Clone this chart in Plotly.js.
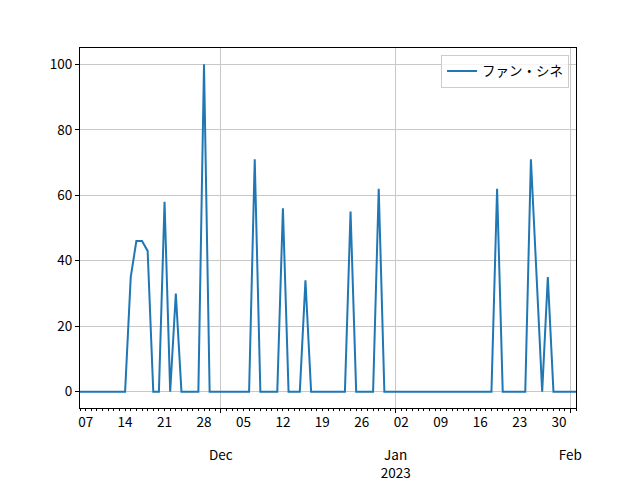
<!DOCTYPE html>
<html>
<head>
<meta charset="utf-8">
<script src="https://cdn.plot.ly/plotly-3.0.1.min.js"></script>
<style>html,body{margin:0;padding:0;background:#fff;}#chart{width:640px;height:480px;}</style>
</head>
<body>
<div id="chart"></div>
<script>
// ---- data ----
const dates = [
  "2022-11-06","2022-11-07","2022-11-08","2022-11-09","2022-11-10","2022-11-11","2022-11-12","2022-11-13","2022-11-14",
  "2022-11-15","2022-11-16","2022-11-17","2022-11-18","2022-11-19","2022-11-20","2022-11-21","2022-11-22","2022-11-23",
  "2022-11-24","2022-11-25","2022-11-26","2022-11-27","2022-11-28","2022-11-29","2022-11-30",
  "2022-12-01","2022-12-02","2022-12-03","2022-12-04","2022-12-05","2022-12-06","2022-12-07","2022-12-08","2022-12-09",
  "2022-12-10","2022-12-11","2022-12-12","2022-12-13","2022-12-14","2022-12-15","2022-12-16","2022-12-17","2022-12-18",
  "2022-12-19","2022-12-20","2022-12-21","2022-12-22","2022-12-23","2022-12-24","2022-12-25","2022-12-26","2022-12-27",
  "2022-12-28","2022-12-29","2022-12-30","2022-12-31",
  "2023-01-01","2023-01-02","2023-01-03","2023-01-04","2023-01-05","2023-01-06","2023-01-07","2023-01-08","2023-01-09",
  "2023-01-10","2023-01-11","2023-01-12","2023-01-13","2023-01-14","2023-01-15","2023-01-16","2023-01-17","2023-01-18",
  "2023-01-19","2023-01-20","2023-01-21","2023-01-22","2023-01-23","2023-01-24","2023-01-25","2023-01-26","2023-01-27",
  "2023-01-28","2023-01-29","2023-01-30","2023-01-31",
  "2023-02-01","2023-02-02"
];
const values = [
  0,0,0,0,0,0,0,0,0,
  35,46,46,43,0,0,58,0,30,
  0,0,0,0,100,0,0,
  0,0,0,0,0,0,71,0,0,
  0,0,56,0,0,0,34,0,0,
  0,0,0,0,0,55,0,0,0,
  0,62,0,0,
  0,0,0,0,0,0,0,0,0,
  0,0,0,0,0,0,0,0,0,
  62,0,0,0,0,0,71,35,0,
  35,0,0,0,
  0,0
];
const seriesName = "ファン・シネ";
const weekTicks = ["2022-11-07","2022-11-14","2022-11-21","2022-11-28","2022-12-05","2022-12-12","2022-12-19","2022-12-26",
                   "2023-01-02","2023-01-09","2023-01-16","2023-01-23","2023-01-30"];
const weekLabels = ["07","14","21","28","05","12","19","26","02","09","16","23","30"];
const monthTicks = ["2022-12-01","2023-01-01","2023-02-01"];
const monthLabels = ["Dec","Jan","Feb"];
const yearTicks = ["2023-01-01"];
const yearLabels = ["2023"];
const yTicks = [0,20,40,60,80,100];

// ---- chart ----
const FONT = "Noto Sans CJK JP, Noto Sans, DejaVu Sans, sans-serif";
const xRange = ["2022-11-06","2023-02-02"];

const trace = {
  x: dates, y: values, type: "scatter", mode: "lines", name: seriesName,
  line: {color: "#1f77b4", width: 2}, xaxis: "x", yaxis: "y"
};
const dummy2 = {
  x: [xRange[0]], y: [null], type: "scatter", mode: "lines", showlegend: false,
  hoverinfo: "skip", xaxis: "x2", yaxis: "y"
};
const dummy3 = {
  x: [xRange[0]], y: [null], type: "scatter", mode: "lines", showlegend: false,
  hoverinfo: "skip", xaxis: "x3", yaxis: "y"
};

const tf = {family: FONT, size: 13.5, color: "#000"};
const layout = {
  width: 640, height: 480,
  margin: {l: 80, r: 64, t: 48, b: 72},
  paper_bgcolor: "#fff", plot_bgcolor: "#fff",
  font: tf,
  showlegend: true,
  legend: {
    x: 0.986, y: 0.981, xanchor: "right", yanchor: "top",
    bgcolor: "rgba(255,255,255,0.8)", bordercolor: "#cccccc", borderwidth: 1,
    font: tf
  },
  xaxis: {
    type: "date", range: xRange,
    tickmode: "array", tickvals: weekTicks, ticktext: weekLabels,
    ticks: "outside", ticklen: 2, tickwidth: 1, tickcolor: "#000",
    minor: {dtick: 86400000, ticks: "outside", ticklen: 2, tickwidth: 1, tickcolor: "#000", showgrid: false},
    showgrid: false, zeroline: false,
    showline: true, mirror: true, linecolor: "#000", linewidth: 1,
    tickfont: tf
  },
  xaxis2: {
    type: "date", range: xRange, overlaying: "x", side: "bottom", anchor: "y",
    tickmode: "array", tickvals: monthTicks, ticktext: monthLabels,
    ticks: "outside", ticklen: 4, tickwidth: 1, tickcolor: "#000",
    ticklabelstandoff: 31,
    showgrid: true, gridcolor: "#c8c8c8", gridwidth: 1,
    zeroline: false, showline: false,
    tickfont: tf
  },
  xaxis3: {
    type: "date", range: xRange, overlaying: "x", side: "bottom", anchor: "y",
    tickmode: "array", tickvals: yearTicks, ticktext: yearLabels,
    ticks: "", ticklabelstandoff: 55,
    showgrid: false, zeroline: false, showline: false,
    tickfont: tf
  },
  yaxis: {
    range: [-5, 105], tickmode: "array", tickvals: yTicks,
    ticks: "outside", ticklen: 4, tickwidth: 1, tickcolor: "#000",
    showgrid: true, gridcolor: "#c8c8c8", gridwidth: 1,
    zeroline: false, showline: true, mirror: true, linecolor: "#000", linewidth: 1,
    tickfont: tf
  }
};

Plotly.newPlot("chart", [dummy2, dummy3, trace], layout, {displayModeBar: false, staticPlot: true});
</script>
</body>
</html>
